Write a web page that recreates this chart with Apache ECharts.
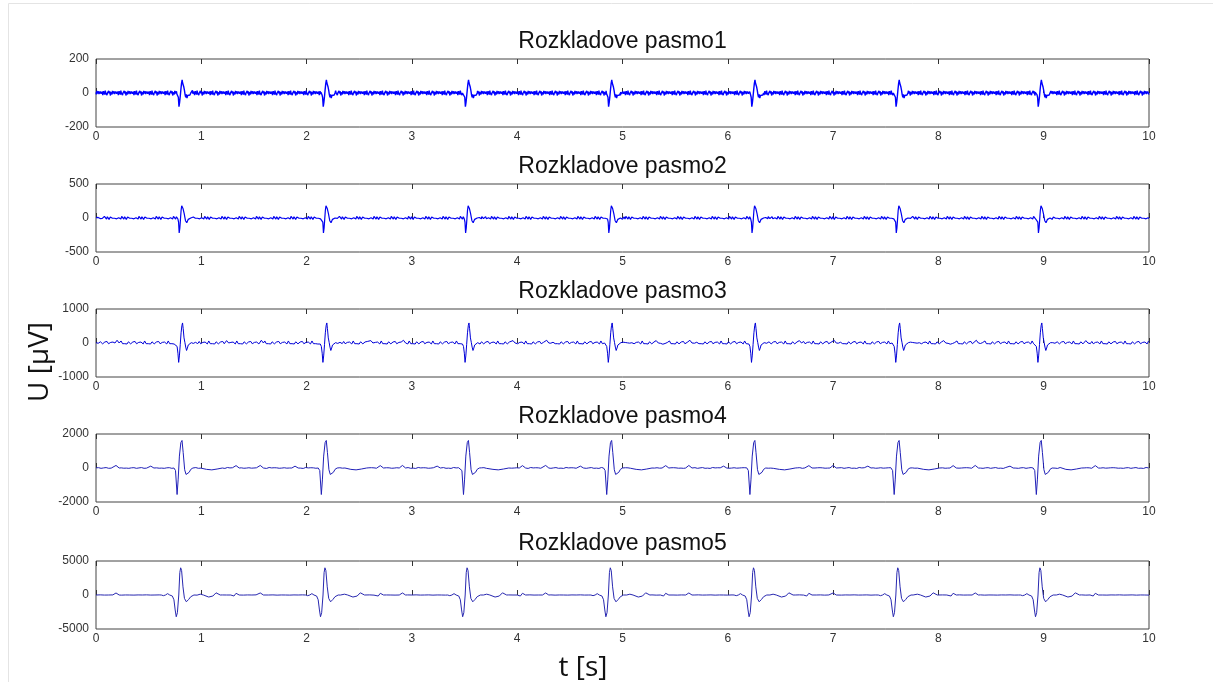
<!DOCTYPE html>
<html>
<head>
<meta charset="utf-8">
<script src="https://cdn.jsdelivr.net/npm/echarts@6/dist/echarts.min.js"></script>
<style>
  html, body { margin: 0; padding: 0; background: #fff; }
  #chart { width: 1213px; height: 682px; }
</style>
</head>
<body>
<div id="chart"></div>
<script>
// rozkladove pasma - 5 pasiem, 10 s zaznam
var bandNames = ['Rozkladove pasmo1', 'Rozkladove pasmo2', 'Rozkladove pasmo3', 'Rozkladove pasmo4', 'Rozkladove pasmo5'];
var yLimits = [200, 500, 1000, 2000, 5000];
var xMax = 10;

// casy uderov (s), odcitane z obrazka
var beatTimes = [0.80, 2.17, 3.52, 4.88, 6.24, 7.61, 8.96];

// tvary uderov: useky [posun od casu uderu (s), hodnota (uV)]
var shape1 = [
  [[-0.03,5],[-0.024,-10],[-0.018,-25],[-0.012,-80],[-0.006,-55],[0.0,-20],[0.006,20],[0.012,55],[0.018,78],[0.022,60],[0.028,70],[0.034,35],[0.04,15],[0.046,-10],[0.052,-25],[0.058,-8],[0.064,-30],[0.07,-15],[0.076,-25],[0.084,-5],[0.092,-12],[0.10,0]]
];
var shape2 = [
  [[-0.03,5],[-0.022,-15],[-0.016,-60],[-0.01,-220],[-0.004,-150],[0.002,-20],[0.008,110],[0.014,180],[0.02,205],[0.026,140],[0.032,160],[0.038,60],[0.044,10],[0.05,-40],[0.056,-20],[0.062,-70],[0.068,-50],[0.076,-20],[0.084,-35],[0.092,-5],[0.10,0]]
];
var shape3 = [
  [[-0.62,0],[-0.60,80],[-0.58,0]],
  [[-0.05,0],[-0.04,-30],[-0.03,-100],[-0.022,-300],[-0.015,-570],[-0.008,-380],[0.0,-50],[0.008,300],[0.016,520],[0.022,590],[0.028,420],[0.036,150],[0.044,20],[0.052,-120],[0.06,-220],[0.068,-150],[0.076,-60],[0.084,-90],[0.094,-30],[0.105,10],[0.115,0]],
  [[0.42,0],[0.44,70],[0.46,0]]
];
var shape4 = [
  [[-0.64,0],[-0.61,150],[-0.58,0]],
  [[-0.31,0],[-0.28,110],[-0.25,0]],
  [[-0.06,0],[-0.045,-150],[-0.03,-1560],[-0.02,-700],[-0.008,700],[0.006,1500],[0.017,1620],[0.028,900],[0.042,-100],[0.055,-380],[0.068,-470],[0.085,-250],[0.10,-80],[0.12,0]],
  [[0.20,0],[0.25,-80],[0.30,-110],[0.35,-60],[0.40,0]],
  [[0.50,0],[0.53,140],[0.56,0]]
];
var shape5 = [
  [[-0.64,0],[-0.61,300],[-0.58,0]],
  [[-0.18,0],[-0.16,-100],[-0.14,0],[-0.12,200],[-0.10,0]],
  [[-0.09,0],[-0.075,-150],[-0.06,-700],[-0.048,-2200],[-0.038,-3200],[-0.027,-2600],[-0.014,0],[-0.004,3300],[0.004,4000],[0.013,3600],[0.026,1200],[0.04,-500],[0.058,-1000],[0.08,-650],[0.10,-250],[0.13,0]],
  [[0.16,0],[0.19,120],[0.22,0],[0.27,-300],[0.31,-150],[0.34,320],[0.38,0]],
  [[0.48,0],[0.51,-150],[0.53,250],[0.56,0]]
];

// sum na izolinii medzi udermi (uV)
var noise1 = [4,-8,12,-3,-14,6,10,-6,2,-11,9,15,-4,-9,3,8,-13,-2,11,-7,5,-10,14,1,-5,7,-12,0,9,-8,13,-3,-6,10,-15,4,6];
var noise2 = [5,-10,14,-4,-16,8,20,2,-12,6,-8,12,-18,3,10,-6,16,-2,-14,9,24,-5,-10,4,12,-15,1,18,-8,-3,11,-20,7,0,14,-9,5,-12,22,-4,3];
var noise3 = [10,-20,25,-8,-30,15,35,-12,5,-25,20,-5,30,-18,8,45,-10,-22,12,-35,18,0,-15,28,-6,14,-28,22,60,10,-20,6];
var noise4 = [10,-15,20,-5,-20,15,5,-10,25,0,-18,12,-8,18,-25,8,30,-12,4,-6,15,-20,10];
var noise5 = [0,20,-10,0,15,-20,5,0,-15,10];
var noiseStep = [0.004, 0.004, 0.007, 0.012, 0.04];

var shapes = [shape1, shape2, shape3, shape4, shape5];
var noises = [noise1, noise2, noise3, noise4, noise5];

function buildBand(shape, noise, step) {
    var pts = [];
    var windows = [];
    beatTimes.forEach(function (b) {
        shape.forEach(function (seg) {
            windows.push([b + seg[0][0], b + seg[seg.length - 1][0]]);
            seg.forEach(function (p) {
                var t = b + p[0];
                if (t >= 0 && t <= xMax) pts.push([t, p[1]]);
            });
        });
    });
    var k = 0;
    for (var i = 0; i * step <= xMax + 1e-9; i++) {
        var t = i * step;
        var inside = windows.some(function (w) { return t >= w[0] && t <= w[1]; });
        if (!inside) pts.push([+t.toFixed(4), noise[k++ % noise.length]]);
    }
    pts.sort(function (a, b) { return a[0] - b[0]; });
    return pts;
}

var gridTops = [59, 184, 309, 434, 561];
var gridH = 68;
var gridLeft = 96, gridW = 1053;
var lineColors = ['#0000ff', '#0000f0', '#0000d8', '#2020b8', '#2828b0'];
var lineWidths = [1.4, 1.2, 1, 1, 1];

var grids = [], xAxes = [], yAxes = [], series = [], texts = [];
for (var i = 0; i < 5; i++) {
    grids.push({ left: gridLeft, top: gridTops[i], width: gridW, height: gridH, show: true, borderColor: '#444', borderWidth: 1, backgroundColor: '#fff' });
    xAxes.push({
        type: 'value', gridIndex: i, min: 0, max: xMax, interval: 1, position: 'bottom',
        axisLine: { show: false },
        axisTick: { show: true, inside: true, length: 5, lineStyle: { color: '#333' } },
        axisLabel: { fontSize: 12, color: '#333', margin: 4, fontFamily: 'Liberation Sans' },
        splitLine: { show: false }
    });
    xAxes.push({
        type: 'value', gridIndex: i, min: 0, max: xMax, interval: 1, position: 'top',
        axisLine: { show: false },
        axisTick: { show: true, inside: true, length: 5, lineStyle: { color: '#333' } },
        axisLabel: { show: false },
        splitLine: { show: false }
    });
    yAxes.push({
        type: 'value', gridIndex: i, min: -yLimits[i], max: yLimits[i], interval: yLimits[i],
        axisLine: { show: false },
        axisTick: { show: false },
        axisLabel: { fontSize: 12, color: '#333', margin: 7, fontFamily: 'Liberation Sans',
                     formatter: function (v) { return String(v); } },
        splitLine: { show: false }
    });
    series.push({
        type: 'line', xAxisIndex: i * 2, yAxisIndex: i,
        data: buildBand(shapes[i], noises[i], noiseStep[i]),
        showSymbol: false, symbol: 'none', sampling: null,
        lineStyle: { color: lineColors[i], width: lineWidths[i] },
        animation: false
    });
    texts.push({
        type: 'text', x: gridLeft + gridW / 2, y: gridTops[i] - 17,
        style: { text: bandNames[i], fill: '#111', font: '23px "Liberation Sans"', textAlign: 'center', textVerticalAlign: 'middle' }
    });
}

texts.push({
    type: 'text', x: 40, y: 362, rotation: Math.PI / 2,
    style: { text: 'U [\u03bcV]', fill: '#111', font: '28px "Open Sans"', textAlign: 'center', textVerticalAlign: 'middle' }
});
texts.push({
    type: 'text', x: 583, y: 668,
    style: { text: 't [s]', fill: '#111', font: '28px "Open Sans"', textAlign: 'center', textVerticalAlign: 'middle' }
});
texts.push({
    type: 'rect', shape: { x: 8.5, y: 3.5, width: 1220, height: 700 },
    style: { fill: 'none', stroke: '#e4e4e4', lineWidth: 1 }, silent: true, z: -1
});

var dom = document.getElementById('chart');
var myChart = echarts.init(dom);
var option = {
    backgroundColor: '#fff',
    animation: false,
    grid: grids,
    xAxis: xAxes,
    yAxis: yAxes,
    series: series,
    graphic: texts
};
myChart.setOption(option, true);
</script>
</body>
</html>
